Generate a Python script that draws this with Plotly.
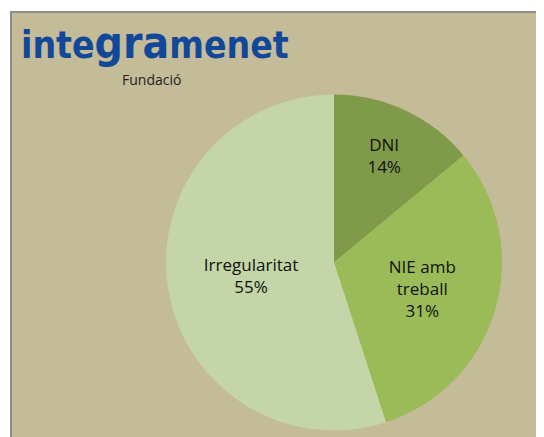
import plotly.graph_objects as go

labels = ["DNI", "NIE amb<br>treball", "Irregularitat"]
values = [14, 31, 55]
colors = ["#7F9A48", "#9BBB59", "#C4D6A8"]

# the page body has an 8px margin, so draw in a slightly smaller figure
OFF = 8
W, H = 544 - OFF, 437 - OFF
bg = "#C4BB98"


def px_x(x):
    return (x - OFF) / W


def px_y(y):
    return 1 - (y - OFF) / H


fig = go.Figure(go.Pie(
    labels=labels, values=values, sort=False, direction="clockwise", rotation=0,
    marker=dict(colors=colors, line=dict(width=0)),
    texttemplate="%{label}<br>%{percent:.0%}", textposition="inside",
    insidetextorientation="horizontal",
    textfont=dict(family="Open Sans", size=17, color="#111111"),
    domain=dict(x=[px_x(166), px_x(502)], y=[px_y(431), px_y(94)]),
    showlegend=False, hoverinfo="label+percent",
))

# plot area background with gray border on top/left
fig.add_shape(type="rect", xref="paper", yref="paper",
              x0=px_x(11), x1=1.05, y0=-0.05, y1=px_y(12),
              fillcolor=bg, line=dict(color="#8C8C8C", width=2), layer="below")

# logo
logo_font = "DejaVu Sans Condensed"
blue = "#12489A"
fig.add_annotation(x=px_x(19), y=px_y(70), xref="paper", yref="paper",
                   xanchor="left", yanchor="bottom", showarrow=False,
                   text="<b>inte<span style='font-size:44px'>gra</span>menet</b>",
                   font=dict(family=logo_font, size=37, color=blue))
fig.add_annotation(x=px_x(120), y=px_y(79), xref="paper", yref="paper",
                   xanchor="left", yanchor="middle", showarrow=False,
                   text="Fundació", font=dict(family="Open Sans", size=14, color="#222222"))

fig.update_layout(width=W, height=H, margin=dict(l=0, r=0, t=0, b=0),
                  paper_bgcolor="white", plot_bgcolor="white")

fig.write_html("out.html")
